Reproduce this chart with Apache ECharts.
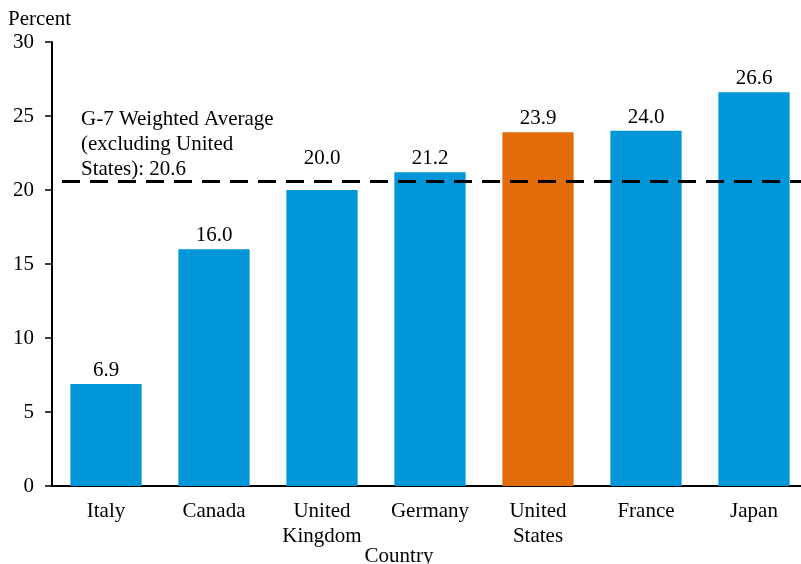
<!DOCTYPE html>
<html>
<head>
<meta charset="utf-8">
<script src="https://cdn.jsdelivr.net/npm/echarts@6/dist/echarts.min.js"></script>
<style>
  html, body { margin: 0; padding: 0; background: #fff; }
  #chart { width: 801px; height: 564px; }
</style>
</head>
<body>
<div id="chart"></div>
<script>
const countries = ['Italy', 'Canada', 'United\nKingdom', 'Germany', 'United\nStates', 'France', 'Japan']
const values = [6.9, 16.0, 20.0, 21.2, 23.9, 24.0, 26.6]
const highlight = 'United\nStates'
const g7Average = 20.6
const yTicks = [0, 5, 10, 15, 20, 25, 30]

const blue = '#0096d8'
const orange = '#e36c0a'
const font = '"Liberation Serif", "DejaVu Serif", serif'

const chart = echarts.init(document.getElementById('chart'))

const option = {
  animation: false,
  textStyle: { fontFamily: font, color: '#000' },
  grid: { left: 52, right: -7, top: 42, bottom: 78, outerBoundsMode: 'none' },
  xAxis: {
    type: 'category',
    data: countries,
    axisLine: { lineStyle: { color: '#000', width: 2 } },
    axisTick: { show: false },
    axisLabel: { color: '#000', fontSize: 21, fontFamily: font, margin: 13, lineHeight: 25 },
    name: 'Country',
    nameLocation: 'middle',
    nameGap: 60,
    nameMoveOverlap: false,
    nameTextStyle: { color: '#000', fontSize: 21, fontFamily: font, padding: [0, 62, 0, 0] }
  },
  yAxis: {
    type: 'value',
    min: yTicks[0],
    max: yTicks[yTicks.length - 1],
    interval: 5,
    axisLine: { show: true, lineStyle: { color: '#000', width: 2 } },
    axisTick: { show: true, length: 7, lineStyle: { color: '#000', width: 1.5 } },
    splitLine: { show: false },
    axisLabel: { color: '#000', fontSize: 21, fontFamily: font, margin: 18 },
    name: 'Percent',
    nameLocation: 'end',
    nameGap: 12,
    nameMoveOverlap: false,
    nameTextStyle: { color: '#000', fontSize: 21, fontFamily: font, align: 'left', padding: [0, 0, 0, -44] }
  },
  series: [{
    type: 'bar',
    data: values.map((v, i) => ({
      value: v,
      itemStyle: { color: countries[i] === highlight ? orange : blue },
      // the UK label sits higher so it clears the dashed average line
      label: v < g7Average && v > g7Average - 2 ? { distance: 21 } : undefined
    })),
    barCategoryGap: '34%',
    label: {
      show: true,
      position: 'top',
      distance: 3,
      color: '#000',
      fontSize: 21,
      fontFamily: font,
      formatter: p => p.value.toFixed(1)
    },
    markLine: {
      silent: true,
      symbol: 'none',
      data: [{ yAxis: g7Average }],
      lineStyle: { color: '#000', width: 3, type: [18, 10], dashOffset: 18 },
      label: { show: false }
    }
  }],
  graphic: [{
    type: 'text',
    left: 81,
    top: 107,
    style: {
      text: 'G-7 Weighted Average\n(excluding United\nStates): ' + g7Average.toFixed(1),
      font: '21px ' + font,
      lineHeight: 25,
      fill: '#000'
    }
  }]
}

chart.setOption(option)
</script>
</body>
</html>
